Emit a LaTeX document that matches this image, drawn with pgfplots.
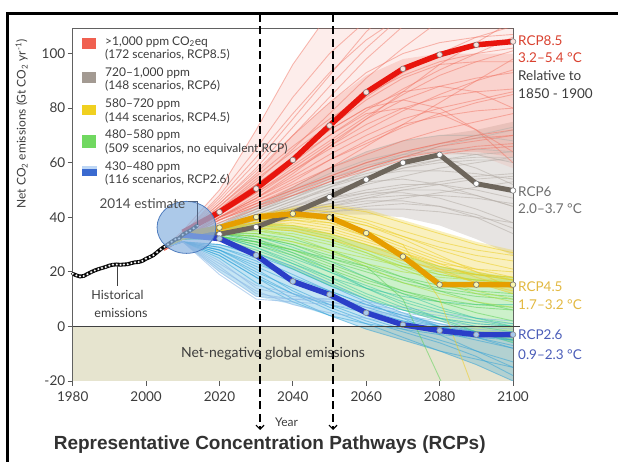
\documentclass[border=0pt]{standalone}
\usepackage{fontspec}
\setmainfont{Lato}
\newfontfamily\titlefont{Liberation Sans}
\usepackage{pgfplots}
\usepackage{pgfplotstable}
\pgfplotsset{compat=1.18}
\usetikzlibrary{arrows.meta}

\definecolor{negbg}{RGB}{230,228,207}
\definecolor{redsp}{RGB}{240,118,102}
\definecolor{graysp}{RGB}{185,178,172}
\definecolor{yellowsp}{RGB}{236,206,40}
\definecolor{greenA}{RGB}{175,222,60}
\definecolor{greenB}{RGB}{95,210,90}
\definecolor{greenC}{RGB}{50,196,160}
\definecolor{cyansp}{RGB}{45,160,215}
\definecolor{lbluesp}{RGB}{140,185,230}
\definecolor{rcpred}{RGB}{232,21,13}
\definecolor{rcpgray}{RGB}{110,102,92}
\definecolor{rcpgold}{RGB}{230,158,0}
\definecolor{rcpblue}{RGB}{42,62,200}
\definecolor{labred}{RGB}{217,65,47}
\definecolor{labgray}{RGB}{110,110,110}
\definecolor{labgold}{RGB}{226,184,64}
\definecolor{labblue}{RGB}{74,92,184}
\definecolor{txt}{RGB}{60,60,60}
\definecolor{titlec}{RGB}{50,50,50}
\definecolor{mk45}{RGB}{250,246,175}
\definecolor{mk26}{RGB}{168,200,236}
\definecolor{mk85}{RGB}{252,226,220}
\definecolor{circfill}{RGB}{140,180,225}
\definecolor{circdraw}{RGB}{80,125,190}
\definecolor{estline}{RGB}{80,100,130}
\definecolor{swred}{RGB}{240,96,80}
\definecolor{swgray}{RGB}{163,154,146}
\definecolor{swyellow}{RGB}{240,208,32}
\definecolor{swgreen}{RGB}{112,216,96}
\definecolor{swblue}{RGB}{58,106,208}
\definecolor{swlblue}{RGB}{190,215,245}

% RCP8.5 family (>1000 ppm)
\pgfplotstableread{
x c1 c2 c3 c4 c5 c6 c7 c8 c9 c10 c11 c12 c13 c14 c15 c16 c17 c18 c19 c20 c21 c22 c23 c24 c25 c26 c27 c28 c29 c30
2005 29 29 29 28 28 28 28 28 28 28 28 28 29 29 28 28 29 28 28 28 28 29 28 28 28 29 29 29 29 29
2010 33 33 34 33 32 32 32 32 32 33 32 32 33 33 32 32 34 32 32 32 32 33 32 32 32 33 35 34 34 33
2020 44 43 45 42 41 40 40 39 41 42 40 39 44 43 41 40 46 39 40 40 41 43 38 40 39 42 50 48 47 45
2030 56 53 58 50 49 47 46 45 50 52 47 44 55 52 49 46 60 45 48 45 51 54 43 47 44 52 72 65 62 57
2040 70 65 73 59 57 54 52 50 60 62 55 49 66 61 58 53 76 51 57 50 62 64 48 56 48 62 96 84 78 70
2050 84 78 88 68 65 61 58 55 70 72 63 54 76 70 67 61 92 58 66 55 72 74 53 66 53 73 115 100 93 82
2060 98 91 102 77 72 67 63 60 78 80 70 58 85 79 76 68 108 66 74 60 80 84 57 76 58 83 130 112 105 93
2070 110 102 114 85 79 73 68 64 80 83 76 62 92 87 83 74 120 74 80 64 86 93 61 86 62 91 140 122 114 100
2080 120 112 124 92 85 78 72 67 78 80 80 64 97 94 88 77 130 82 84 67 88 100 63 96 66 96 150 130 120 104
2090 128 118 130 97 90 82 75 70 72 72 83 66 100 100 91 79 138 90 86 69 86 106 65 104 68 97 155 135 124 106
2100 135 122 134 101 94 85 78 72 64 60 86 67 102 106 93 80 145 98 87 70 80 110 66 112 70 97 160 140 127 107
}\redtab

% RCP6 family (720-1000 ppm)
\pgfplotstableread{
x c1 c2 c3 c4 c5 c6 c7 c8 c9 c10 c11 c12 c13 c14 c15 c16 c17 c18 c19 c20 c21 c22
2005 29 29 29 29 29 29 29 29 29 29 29 29 29 29 29 29 29 29 29 29 29 29
2010 32 32 32 32 32 32 32 32 32 32 32 32 32 32 32 32 32 32 32 32 32 32
2020 36 35 37 36 35 36 35 37 36 36 38 35 36 37 36 35 37 36 36 35 37 36
2030 40 38 42 40 39 41 38 43 40 39 44 37 41 42 40 39 43 40 42 38 44 39
2040 44 41 47 45 43 46 42 49 44 42 50 40 46 47 43 42 48 44 48 40 51 41
2050 48 44 52 51 47 50 45 55 47 45 56 42 51 53 46 44 52 49 54 42 58 43
2060 52 47 56 57 50 53 48 60 49 47 61 44 55 58 49 46 55 54 59 43 64 45
2070 55 50 59 62 52 54 50 63 49 48 64 45 58 63 51 46 57 58 62 43 68 47
2080 58 52 61 66 52 52 50 64 47 48 65 44 60 67 53 44 57 61 62 42 70 49
2090 60 54 62 69 50 48 48 63 43 47 65 41 61 70 55 40 56 63 58 40 70 51
2100 62 55 62 72 47 44 44 60 38 45 64 36 61 73 56 34 54 64 52 38 68 53
}\graytab

% RCP4.5 family (580-720 ppm)
\pgfplotstableread{
x c1 c2 c3 c4 c5 c6 c7 c8 c9 c10 c11 c12 c13 c14
2005 29 29 29 29 29 29 29 29 29 29 29 29 29 29
2010 32 32 32 32 32 32 32 32 32 32 32 32 32 32
2020 36 36 35 36 37 35 36 35 36 37 35 36 36 35
2030 39 40 37 38 41 36 39 37 38 40 36 39 40 38
2040 40 42 38 39 43 36 41 37 39 41 35 40 43 40
2050 39 41 36 37 42 34 40 35 38 39 32 38 44 40
2060 35 38 32 33 39 30 37 31 35 34 28 33 42 37
2070 30 33 27 28 35 25 32 27 30 29 24 27 38 33
2080 25 28 22 23 31 20 26 23 10 24 21 21 34 29
2090 21 24 19 18 28 16 20 21 -26 20 19 16 30 26
2100 18 21 17 14 26 13 14 20 -50 17 18 12 27 24
}\yellowtab

% 480-580 ppm family, three shades
\pgfplotstableread{
x c1 c2 c3 c4 c5 c6 c7 c8
2005 29 29 29 29 29 29 29 29
2010 32 32 32 32 32 32 32 32
2020 35 36 35 35 36 35 34 36
2030 35 37 36 34 36 35 33 38
2040 33 36 35 31 33 34 31 37
2050 30 33 32 27 28 31 28 34
2060 26 28 27 23 22 27 25 30
2070 22 23 21 20 16 22 22 26
2080 19 19 16 18 12 17 20 22
2090 17 17 12 17 9 13 19 19
2100 16 16 9 17 7 10 18 17
}\greenAtab
\pgfplotstableread{
x c1 c2 c3 c4 c5 c6 c7 c8
2005 29 29 29 29 29 29 29 29
2010 32 32 32 32 32 32 32 32
2020 34 33 34 33 34 34 33 33
2030 33 31 34 30 32 33 31 31
2040 30 28 32 26 28 30 27 28
2050 26 24 28 21 23 25 22 25
2060 22 20 23 16 18 22 17 21
2070 18 16 18 12 13 10 13 17
2080 15 13 13 9 9 -19 10 14
2090 13 11 9 7 5 -48 8 12
2100 12 10 6 6 2 -70 7 11
}\greenBtab
\pgfplotstableread{
x c1 c2 c3 c4 c5 c6 c7 c8
2005 29 29 29 29 29 29 29 29
2010 32 32 32 32 32 32 32 32
2020 33 34 32 34 33 34 32 33
2030 29 33 28 32 30 31 27 29
2040 24 29 23 27 25 26 21 23
2050 18 24 18 21 20 20 15 17
2060 12 18 14 14 15 14 10 11
2070 7 12 11 8 10 9 6 6
2080 3 7 9 3 6 5 3 2
2090 0 3 8 -2 3 2 1 -2
2100 -2 0 8 -6 1 0 0 -5
}\greenCtab

% RCP2.6 family (430-480 ppm)
\pgfplotstableread{
x c1 c2 c3 c4 c5 c6 c7 c8 c9 c10 c11 c12
2005 29 29 29 29 29 29 29 29 29 29 29 29
2010 31 31 31 31 31 31 31 31 31 31 31 31
2020 28 26 29 27 30 28 25 29 28 27 30 26
2030 22 18 25 20 26 21 16 24 23 19 27 18
2040 16 12 19 14 21 13 9 17 18 12 22 10
2050 11 8 13 8 15 7 4 11 13 6 16 4
2060 7 5 8 3 9 2 1 6 8 1 10 -1
2070 3 2 4 -1 3 -2 -1 2 4 -4 5 -5
2080 0 0 0 -5 -3 -6 -3 -2 1 -9 0 -9
2090 -3 -2 -4 -9 -9 -11 -4 -5 -2 -14 -4 -12
2100 -5 -3 -8 -13 -15 -18 -5 -8 -4 -20 -7 -15
}\cyantab
\pgfplotstableread{
x c1 c2 c3 c4 c5 c6
2005 29 29 29 29 29 29
2010 31 31 31 31 31 31
2020 22 19 24 21 23 20
2030 12 10 14 13 15 11
2040 10 9 11 8 12 10
2050 9 8 10 5 9 10
2060 7 6 8 3 6 9
2070 5 4 6 1 3 7
2080 3 2 4 -1 1 5
2090 1 0 2 -2 -1 3
2100 0 -1 1 -3 -2 2
}\lbluetab

% RCP pathways
\pgfplotstableread{
x r85 r6 r45 r26
2010 34.5 33.5 33.5 33.5
2020 41.9 33.8 36.2 32.2
2030 50.5 36.4 40.1 26.1
2040 61.0 41.6 41.3 16.5
2050 73.6 47.4 40.0 11.7
2060 85.8 53.8 34.2 5.0
2070 94.4 60.0 25.6 0.6
2080 99.6 62.9 15.3 -1.5
2090 103.2 52.3 15.3 -3.0
2100 104.4 49.8 15.3 -3.0
}\rcptab

% historical emissions
\pgfplotstableread{
x y
1980 19.3
1981 18.7
1982 18.3
1983 18.5
1984 19.2
1985 19.9
1986 20.5
1987 21.0
1988 21.4
1989 21.8
1990 22.3
1991 22.6
1992 22.7
1993 22.6
1994 22.7
1995 22.8
1996 23.2
1997 23.5
1998 23.6
1999 24.0
2000 24.8
2001 25.4
2002 26.1
2003 27.2
2004 28.3
2005 29.2
2006 30.1
2007 31.0
2008 31.9
2009 32.3
2010 33.6
2011 34.4
2012 35.1
2013 36.0
2014 37.0
}\histtab

\begin{document}
\begin{tikzpicture}[x=1pt,y=1pt]
\path[use as bounding box] (0pt,0pt) rectangle (618pt,462pt);
\begin{axis}[
  at={(72.7pt,81pt)}, anchor=south west,
  scale only axis, width=440.3pt, height=352pt,
  xmin=1980, xmax=2100, ymin=-20, ymax=109,
  xtick={1980,2000,...,2100}, ytick={-20,0,...,100},
  xtick pos=bottom, ytick pos=left,
  tick align=outside, major tick length=5pt,
  tick style={draw=black!65, line width=0.8pt},
  axis line style={draw=black!62, line width=1pt},
  /pgf/number format/assume math mode=true,
  /pgf/number format/1000 sep={},
  ticklabel style={font=\fontsize{13.5}{15}\selectfont, text=txt},
  xticklabel style={yshift=-2pt},
  yticklabel style={xshift=1pt},
  clip mode=individual,
]
\addplot[draw=none, fill=negbg] coordinates {(1980,-20) (1980,0) (2100,0) (2100,-20)} -- cycle;

% envelopes of the scenario families
\addplot[draw=none, fill=graysp, fill opacity=0.35] coordinates {(2010,32) (2020,38) (2030,44) (2040,51) (2050,58) (2060,64) (2070,68) (2080,70) (2090,72) (2100,75) (2100,26) (2090,32) (2080,37) (2070,40) (2060,41) (2050,41) (2040,39) (2030,36) (2020,34) (2010,32)} -- cycle;
\addplot[draw=none, fill=redsp, fill opacity=0.13] coordinates {(2005,29) (2010,35) (2020,50) (2030,72) (2040,96) (2050,115) (2100,115) (2100,58) (2090,63) (2080,63) (2070,61) (2060,57) (2050,53) (2040,48) (2030,43) (2020,38) (2010,32) (2005,28)} -- cycle;
\addplot[draw=none, fill=redsp, fill opacity=0.22] coordinates {(2010,33) (2020,44) (2030,56) (2040,70) (2050,82) (2060,92) (2070,98) (2080,100) (2090,100) (2100,100) (2100,62) (2090,64) (2080,64) (2070,62) (2060,58) (2050,54) (2040,49) (2030,44) (2020,39) (2010,32)} -- cycle;
\addplot[draw=none, fill=cyansp, fill opacity=0.28] coordinates {(2005,29) (2010,31) (2020,30) (2030,27) (2040,22) (2050,16) (2060,10) (2070,5) (2080,1) (2090,-2) (2100,-3) (2100,-20) (2090,-14) (2080,-9) (2070,-5) (2060,-1) (2050,4) (2040,8) (2030,11) (2020,20) (2010,31)} -- cycle;
\addplot[draw=none, fill=greenB, fill opacity=0.32] coordinates {(2010,32) (2020,36) (2030,38) (2040,37) (2050,34) (2060,30) (2070,26) (2080,22) (2090,20) (2100,18) (2100,-6) (2090,-2) (2080,2) (2070,6) (2060,10) (2050,15) (2040,21) (2030,27) (2020,32) (2010,32)} -- cycle;
\addplot[draw=none, fill=yellowsp, fill opacity=0.3] coordinates {(2010,32) (2020,37) (2030,41) (2040,44) (2050,45) (2060,43) (2070,39) (2080,35) (2090,31) (2100,28) (2100,12) (2090,16) (2080,20) (2070,24) (2060,28) (2050,32) (2040,35) (2030,36) (2020,35) (2010,32)} -- cycle;

\pgfplotsinvokeforeach{1,...,22}{\addplot[graysp, line width=0.9pt, opacity=0.6] table[x index=0, y index=#1] {\graytab};}
\pgfplotsinvokeforeach{1,...,30}{\addplot[redsp, line width=0.9pt, opacity=0.5] table[x index=0, y index=#1] {\redtab};}
\pgfplotsinvokeforeach{1,...,12}{\addplot[cyansp, line width=0.9pt, opacity=0.5] table[x index=0, y index=#1] {\cyantab};}
\pgfplotsinvokeforeach{1,...,6}{\addplot[lbluesp, line width=0.9pt, opacity=0.6] table[x index=0, y index=#1] {\lbluetab};}
\pgfplotsinvokeforeach{1,...,8}{\addplot[greenC, line width=0.9pt, opacity=0.5] table[x index=0, y index=#1] {\greenCtab};}
\pgfplotsinvokeforeach{1,...,8}{\addplot[greenB, line width=0.9pt, opacity=0.55] table[x index=0, y index=#1] {\greenBtab};}
\pgfplotsinvokeforeach{1,...,8}{\addplot[greenA, line width=0.9pt, opacity=0.55] table[x index=0, y index=#1] {\greenAtab};}
\pgfplotsinvokeforeach{1,...,14}{\addplot[yellowsp, line width=0.9pt, opacity=0.55] table[x index=0, y index=#1] {\yellowtab};}

\addplot[rcpgray, line width=5pt, mark=*, mark indices={2,...,10}, mark size=2.8pt,
  mark options={fill=white, draw=black!55, line width=0.6pt}] table[x=x, y=r6] {\rcptab};
\addplot[rcpgold, line width=5.5pt, mark=*, mark indices={2,...,10}, mark size=2.8pt,
  mark options={fill=mk45, draw=black!55, line width=0.6pt}] table[x=x, y=r45] {\rcptab};
\addplot[rcpblue, line width=5.5pt, mark=*, mark indices={2,...,10}, mark size=2.8pt,
  mark options={fill=mk26, draw=black!45, line width=0.6pt}] table[x=x, y=r26] {\rcptab};
\addplot[rcpred, line width=5.5pt, mark=*, mark indices={2,...,10}, mark size=2.8pt,
  mark options={fill=mk85, draw=black!50, line width=0.6pt}] table[x=x, y=r85] {\rcptab};

\addplot[black, line width=3.8pt, mark=*, mark size=1.6pt,
  mark options={fill=white, draw=black, line width=0.3pt}] table[x=x, y=y] {\histtab};

\addplot[only marks, mark=*, mark size=26pt,
  mark options={xscale=1.13, fill=circfill, fill opacity=0.72, draw=circdraw, line width=0.8pt}] coordinates {(2011.0,36.3)};

\coordinate (z0) at (axis cs:1980,0);
\end{axis}

% zero line extending past the axis
\draw[line width=1.6pt, black!75] (z0) -- ++(447.5pt,0pt);

% frame
\draw[line width=2.8pt] (7.3pt,-2pt) -- (7.3pt,448.5pt) -- (620pt,448.5pt);

% dashed year markers
\draw[line width=1.7pt, dash pattern=on 8pt off 4.5pt, -{Straight Barb[length=4pt,width=8pt,line width=1.2pt]}] (260pt,448pt) -- (260pt,32pt);
\draw[line width=1.7pt, dash pattern=on 8pt off 4.5pt, -{Straight Barb[length=4pt,width=8pt,line width=1.2pt]}] (333pt,448pt) -- (333pt,32pt);

% legend
\begin{scope}[font=\fontsize{12}{13}\selectfont, every node/.style={inner sep=0pt, anchor=west, text=txt}]
\fill[swred] (81.7pt,412.5pt) rectangle (95.5pt,423.5pt);
\fill[swgray] (81.7pt,379pt) rectangle (95.5pt,389.5pt);
\fill[swyellow] (81.7pt,347pt) rectangle (95.5pt,357pt);
\fill[swgreen] (81.7pt,314pt) rectangle (95.5pt,327pt);
\fill[swblue] (81.7pt,285.5pt) rectangle (96.5pt,295.5pt);
\fill[swlblue] (81.7pt,293pt) rectangle (96.5pt,295.5pt);
\node at (105pt,420.3pt) {>1,000 ppm CO\textsubscript{2}eq};
\node at (105pt,407.1pt) {(172 scenarios, RCP8.5)};
\node at (105pt,389.1pt) {720–1,000 ppm};
\node at (105pt,375.9pt) {(148 scenarios, RCP6)};
\node at (105pt,357.8pt) {580–720 ppm};
\node at (105pt,344.6pt) {(144 scenarios, RCP4.5)};
\node at (105pt,326.6pt) {480–580 ppm};
\node at (105pt,313.4pt) {(509 scenarios, no equivalent RCP)};
\node at (105pt,295.3pt) {430–480 ppm};
\node at (105pt,282.1pt) {(116 scenarios, RCP2.6)};
\end{scope}

% right-hand labels
\begin{scope}[font=\fontsize{13.5}{15}\selectfont, every node/.style={inner sep=0pt, anchor=west}]
\node[text=labred] at (518pt,421.3pt) {RCP8.5};
\node[text=labred] at (518pt,404pt) {3.2–5.4 °C};
\node[text=txt] at (518pt,386pt) {Relative to};
\node[text=txt] at (518pt,368pt) {1850 - 1900};
\node[text=labgray] at (518pt,270.3pt) {RCP6};
\node[text=labgray] at (518pt,253pt) {2.0–3.7 °C};
\node[text=labgold] at (518pt,175.3pt) {RCP4.5};
\node[text=labgold] at (518pt,157pt) {1.7–3.2 °C};
\node[text=labblue] at (518pt,127pt) {RCP2.6};
\node[text=labblue] at (518pt,107pt) {0.9–2.3 °C};
\end{scope}

% annotations
\draw[line width=1.2pt, black!75] (117.3pt,197pt) -- (117.3pt,176pt);
\node[inner sep=0pt, text=txt, font=\fontsize{12.5}{14}\selectfont] at (117.5pt,167pt) {Historical};
\node[inner sep=0pt, text=txt, font=\fontsize{12.5}{14}\selectfont] at (121pt,148.7pt) {emissions};
\node[inner sep=0pt, anchor=west, text=black!70, font=\fontsize{13.5}{15}\selectfont] at (99.3pt,258pt) {2014 estimate};
\draw[line width=0.8pt, estline] (188pt,260.3pt) -- (197.3pt,260.3pt) -- (197.3pt,237pt);
\node[inner sep=0pt, text=txt, font=\fontsize{14}{16}\selectfont] at (273pt,108pt) {Net-negative global emissions};
\node[inner sep=0pt, anchor=west, text=txt, font=\fontsize{12}{14}\selectfont] at (275pt,40pt) {Year};
\node[inner sep=0pt, rotate=90, text=txt, font=\fontsize{12}{14}\selectfont] at (21.7pt,338pt) {Net CO\textsubscript{2} emissions (Gt CO\textsubscript{2} yr\textsuperscript{-1})};
\node[inner sep=0pt, text=titlec, font=\titlefont\bfseries\fontsize{19}{21}\selectfont] at (269.7pt,17.5pt) {Representative Concentration Pathways (RCPs)};
\end{tikzpicture}
\end{document}
